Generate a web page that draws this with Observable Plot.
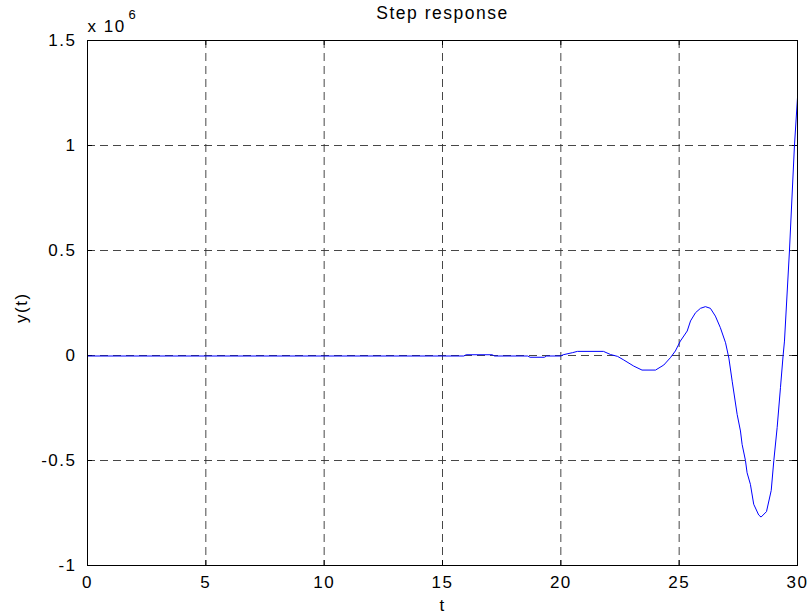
<!DOCTYPE html>
<html>
<head>
<meta charset="utf-8">
<script src="https://cdn.jsdelivr.net/npm/d3@7"></script>
<script src="https://cdn.jsdelivr.net/npm/@observablehq/plot@0.6"></script>
<style>
  html, body { margin: 0; padding: 0; background: #fff; }
  svg { display: block; }
</style>
</head>
<body>
<div id="chart"></div>
<script>
// Time samples (s)
const tValues = [0, 5, 10, 15, 15.9, 16.0, 17.1, 17.2, 18.6, 18.7, 19.3, 19.4, 20.0, 20.1, 20.5, 20.7, 21.8, 22.1, 22.4, 22.66, 23.08, 23.43, 24.0, 24.35, 24.63, 24.84, 25.05, 25.34, 25.48, 25.69, 25.9, 26.11, 26.32, 26.53, 26.74, 26.96, 27.1, 27.24, 27.45, 27.59, 27.66, 27.8, 27.87, 28.01, 28.15, 28.36, 28.46, 28.69, 28.89, 29.0, 29.14, 29.28, 29.39, 29.45, 29.66, 29.87, 30.0];
// Response y(t), in units of 10^6
const yValues = [0, 0, 0, 0, 0, 0.006, 0.006, 0, 0, -0.006, -0.006, 0, 0, 0.006, 0.016, 0.022, 0.022, 0.007, -0.002, -0.019, -0.048, -0.067, -0.067, -0.043, -0.008, 0.024, 0.071, 0.119, 0.167, 0.206, 0.227, 0.235, 0.227, 0.19, 0.135, 0.063, -0.01, -0.12, -0.278, -0.357, -0.421, -0.497, -0.556, -0.611, -0.706, -0.757, -0.767, -0.741, -0.64, -0.497, -0.341, -0.151, 0, 0.071, 0.5, 1.0, 1.23];
const xTicks = [0, 5, 10, 15, 20, 25, 30];
const yTicks = [-1, -0.5, 0, 0.5, 1, 1.5];
const titleText = "Step response";
const xLabel = "t";
const yLabel = "y(t)";
const exponentBase = "x 10";
const exponentPower = "6";

const data = tValues.map((t, i) => ({t, y: yValues[i]}));
const FONT = "'Liberation Sans', Arial, Helvetica, sans-serif";

const chart = Plot.plot({
  width: 808,
  height: 615,
  marginLeft: 87,
  marginRight: 11,
  marginTop: 40,
  marginBottom: 50,
  style: {fontFamily: FONT, background: "#fff", color: "#000", letterSpacing: "1.5px"},
  x: {domain: [0, 30]},
  y: {domain: [-1, 1.5]},
  marks: [
    Plot.gridX(xTicks, {stroke: "#333", strokeOpacity: 0.9, strokeDasharray: "8,5"}),
    Plot.gridY(yTicks, {stroke: "#333", strokeOpacity: 0.9, strokeDasharray: "8,5"}),
    Plot.tickX(xTicks, {x: d => d, insetTop: 520, stroke: "#000"}),
    Plot.tickX(xTicks, {x: d => d, insetBottom: 520, stroke: "#000"}),
    Plot.tickY(yTicks, {y: d => d, insetRight: 705, stroke: "#000"}),
    Plot.tickY(yTicks, {y: d => d, insetLeft: 705, stroke: "#000"}),
    Plot.line(data, {x: "t", y: "y", stroke: "#0000ff", strokeWidth: 1, dy: 0.5}),
    Plot.frame({stroke: "#000", strokeWidth: 1}),
    Plot.axisX(xTicks, {anchor: "bottom", tickSize: 0, tickPadding: 10, fontSize: 17, label: null, tickFormat: d => String(d)}),
    Plot.axisY(yTicks, {anchor: "left", tickSize: 0, tickPadding: 11, fontSize: 17, label: null, tickFormat: d => String(d)}),
    Plot.text([titleText], {frameAnchor: "top", dy: -34, fontSize: 17.5, style: "letter-spacing:1.6px"}),
    Plot.text([xLabel], {frameAnchor: "bottom", dy: 45, fontSize: 17}),
    Plot.text([yLabel], {frameAnchor: "left", dx: -66, dy: 20, rotate: -90, fontSize: 17}),
    Plot.text([exponentBase], {frameAnchor: "top-left", textAnchor: "start", dy: -21, fontSize: 17}),
    Plot.text([exponentPower], {frameAnchor: "top-left", textAnchor: "start", dx: 41, dy: -31, fontSize: 13})
  ]
});
document.getElementById("chart").appendChild(chart);
</script>
</body>
</html>
